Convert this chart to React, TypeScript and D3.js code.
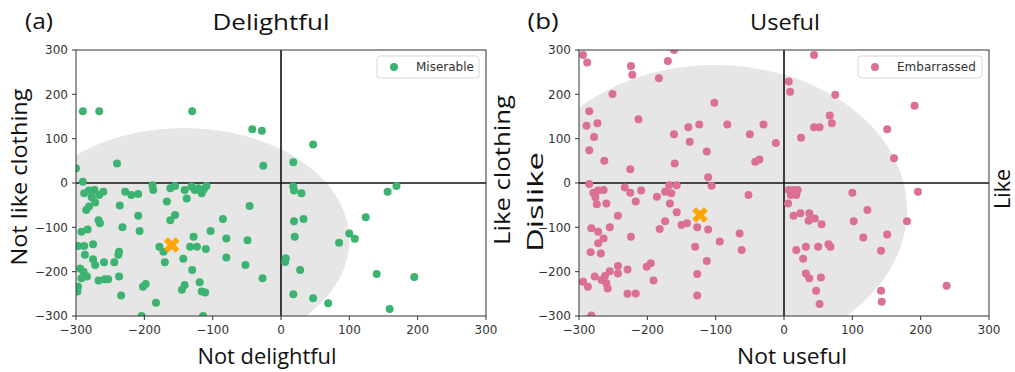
import React from 'react';
import * as d3 from 'd3';

const TICKS = [-300, -200, -100, 0, 100, 200, 300];
const DOMAIN: [number, number] = [-300, 300];

// Panel (a): Miserable
const miserable: [number, number][] = [
  [-290, 162], [-266, 162], [-130, 162], [-42, 121], [-28, 118], [-240, 44], [-26, 39], [-300, 33], [-290, 3],
  [47, 87], [18, 47], [169, -7], [18, -8], [19, -17], [30, -23], [156, -20], [124, -77], [19, -86], [33, -81],
  [20, -121], [100, -114], [108, -126], [85, -135], [7, -170], [6, -178], [28, -196], [140, -205], [195, -212],
  [18, -251], [47, -260], [69, -271], [159, -284],
  [-288, -23], [-281, -17], [-273, -16], [-266, -27], [-260, -20], [-277, -32], [-272, -44], [-285, -61], [-281, -53],
  [-236, -51], [-228, -20], [-219, -27], [-209, -25], [-188, -5], [-187, -16], [-167, -42], [-162, -12], [-155, -7],
  [-141, -16], [-138, -35], [-131, -8], [-126, -16], [-121, -12], [-116, -23], [-113, -14], [-109, -7], [-46, -52],
  [-209, -74], [-207, -108], [-162, -84], [-155, -72], [-265, -91], [-267, -84], [-292, -110], [-283, -105],
  [-232, -100], [-85, -81], [-103, -108], [-178, -144], [-172, -155], [-128, -121], [-133, -144], [-123, -144],
  [-110, -149], [-80, -125], [-49, -129], [-297, -142], [-288, -142], [-275, -138], [-287, -162], [-237, -155],
  [-238, -162], [-275, -172], [-272, -185], [-259, -179], [-244, -179], [-170, -179], [-143, -171], [-80, -168],
  [-52, -185], [-294, -193], [-289, -200], [-284, -211], [-292, -215], [-267, -220], [-258, -217], [-253, -217],
  [-237, -211], [-130, -196], [-27, -215], [-297, -234], [-298, -245], [-202, -234], [-198, -228], [-145, -241],
  [-141, -230], [-119, -224], [-116, -245], [-111, -247], [-234, -254], [-183, -270], [-204, -300], [-114, -300],
];
const miserableMean: [number, number] = [-160, -140];
const miserableEllipse = { cx: -142, cy: -129, rx: 242, ry: 253 };

// Panel (b): Embarrassed
const embarrassed: [number, number][] = [
  [-294, 289], [-288, 272], [-224, 264], [-222, 244], [-170, 275], [-161, 300], [-183, 236], [-251, 201], [-102, 181],
  [-285, 162], [-273, 135], [-289, 129], [-213, 144], [-278, 104], [-285, 74], [-263, 50], [-225, 31], [-161, 110],
  [-140, 126], [-138, 93], [-124, 132], [-160, 44], [-113, 71], [-83, 132], [-50, 110], [-30, 132], [-12, 90],
  [-42, 48], [-36, 53], [-111, 13], [-106, -6], [-285, -2],
  [-279, -22], [-272, -17], [-264, -16], [-276, -32], [-274, -48], [-260, -46], [-233, -10], [-225, -22], [-209, -17],
  [-217, -42], [-186, -31], [-174, -20], [-168, -5], [-165, -23], [-157, -5], [-167, -46], [-157, -66], [-243, -74],
  [-174, -86], [-182, -104], [-150, -95], [-142, -91], [-127, -100], [-111, -105], [-52, -27], [-65, -114],
  [-62, -151], [-94, -132], [-130, -144], [-113, -176], [-127, -205], [-127, -254], [-282, -102], [-272, -110],
  [-264, -125], [-272, -136], [-255, -100], [-283, -156], [-268, -159], [-224, -121], [-243, -187], [-229, -195],
  [-243, -204], [-255, -199], [-262, -210], [-277, -211], [-267, -219], [-260, -226], [-258, -238], [-294, -223],
  [-287, -234], [-201, -189], [-195, -181], [-191, -220], [-229, -250], [-217, -249], [-282, -299],
  [44, 289], [7, 229], [9, 206], [75, 199], [191, 174], [67, 152], [70, 135], [44, 126], [52, 126], [25, 102],
  [151, 121], [161, 56],
  [7, -16], [14, -16], [20, -16], [10, -27], [18, -27], [6, -46], [14, -74], [24, -68], [37, -68], [36, -85],
  [45, -80], [55, -93], [100, -22], [196, -20], [122, -61], [102, -86], [180, -86], [151, -116], [116, -123],
  [18, -151], [32, -144], [50, -144], [65, -138], [68, -144], [142, -153], [28, -171], [32, -204], [37, -215],
  [54, -213], [47, -243], [52, -273], [142, -243], [143, -268], [238, -232],
];
const embarrassedMean: [number, number] = [-123, -72];
const embarrassedEllipse = { cx: -101, cy: -61, rx: 281, ry: 327 };

const panelLetters = ['(a)', '(b)'];
const topLabels = ['Delightful', 'Useful'];
const bottomLabels = ['Not delightful', 'Not useful'];
const leftLabels = ['Not like clothing', 'Dislike'];
const rightLabels = ['Like clothing', 'Like'];
const legendLabels = ['Miserable', 'Embarrassed'];

const GREEN = '#3cb371';
const PINK = '#db7093';
const ORANGE = '#ffa500';
const TICK_FONT = '"DejaVu Sans", sans-serif';
const LABEL_FONT = '"Open Sans", "Noto Sans", sans-serif';

type EllipseSpec = { cx: number; cy: number; rx: number; ry: number };

interface PanelProps {
  id: string;
  left: number;
  right: number;
  top: number;
  bottom: number;
  points: [number, number][];
  mean: [number, number];
  ellipse: EllipseSpec;
  color: string;
  legend: string;
  legendTextW: number;
}

function Panel(p: PanelProps) {
  const x = d3.scaleLinear().domain(DOMAIN).range([p.left, p.right]);
  const y = d3.scaleLinear().domain(DOMAIN).range([p.bottom, p.top]);
  const ts = d3.range(0, 361, 3).map((deg) => (deg * Math.PI) / 180);
  const ellPath = d3
    .line<number>()
    .x((t) => x(p.ellipse.cx + p.ellipse.rx * Math.cos(t)))
    .y((t) => y(p.ellipse.cy + p.ellipse.ry * Math.sin(t)))
    .curve(d3.curveLinearClosed)(ts) as string;
  const clipId = `clip-${p.id}`;
  const xSym = d3.symbol().type(d3.symbolCross).size(150)() as string;
  const legW = p.legendTextW + 44;
  const legX = p.right - 7 - legW;
  const legY = p.top + 6;
  return (
    <g>
      <defs>
        <clipPath id={clipId}>
          <rect x={p.left} y={p.top} width={p.right - p.left} height={p.bottom - p.top} />
        </clipPath>
      </defs>
      <rect x={p.left} y={p.top} width={p.right - p.left} height={p.bottom - p.top} fill="#fff" />
      <g clipPath={`url(#${clipId})`}>
        <path d={ellPath} fill="#e6e6e6" />
        <line x1={x(0)} x2={x(0)} y1={p.top} y2={p.bottom} stroke="#111" strokeWidth={1.6} />
        <line x1={p.left} x2={p.right} y1={y(0)} y2={y(0)} stroke="#111" strokeWidth={1.6} />
        {p.points.map((d, i) => (
          <circle key={i} cx={x(d[0])} cy={y(d[1])} r={4} fill={p.color} />
        ))}
        <path d={xSym} transform={`translate(${x(p.mean[0])},${y(p.mean[1])}) rotate(45)`} fill={ORANGE} />
      </g>
      <rect x={p.left} y={p.top} width={p.right - p.left} height={p.bottom - p.top} fill="none" stroke="#333" strokeWidth={1} />
      {TICKS.map((t) => (
        <g key={`x${t}`}>
          <line x1={x(t)} x2={x(t)} y1={p.bottom} y2={p.bottom + 4} stroke="#333" />
          <text x={x(t)} y={p.bottom + 18} textAnchor="middle" fontFamily={TICK_FONT} fontSize={12} fill="#333">
            {t < 0 ? `\u2212${Math.abs(t)}` : t}
          </text>
        </g>
      ))}
      {TICKS.map((t) => (
        <g key={`y${t}`}>
          <line x1={p.left - 4} x2={p.left} y1={y(t)} y2={y(t)} stroke="#333" />
          <text x={p.left - 8} y={y(t)} dy="0.36em" textAnchor="end" fontFamily={TICK_FONT} fontSize={12} fill="#333">
            {t < 0 ? `\u2212${Math.abs(t)}` : t}
          </text>
        </g>
      ))}
      <rect x={legX} y={legY} width={legW} height={22} rx={3} fill="#fff" stroke="#d8d8d8" />
      <circle cx={legX + 17} cy={legY + 11} r={4} fill={p.color} />
      <text x={legX + 39} y={legY + 11} dy="0.36em" fontFamily={TICK_FONT} fontSize={12} fill="#333">
        {p.legend}
      </text>
    </g>
  );
}

function Label(props: { x: number; y: number; text: string; len: number; rotate?: boolean; size?: number; anchor?: string }) {
  const { x, y, text, len, rotate, size = 22, anchor = 'middle' } = props;
  return (
    <text
      transform={`translate(${x},${y})${rotate ? ' rotate(-90)' : ''}`}
      textAnchor={anchor}
      fontFamily={LABEL_FONT}
      fontSize={size}
      fill="#111"
      textLength={len}
      lengthAdjust="spacingAndGlyphs"
    >
      {text}
    </text>
  );
}

export default function App() {
  return (
    <svg width={1015} height={372} style={{ position: 'absolute', left: 0, top: 0, background: '#fff' }}>
      <rect width={1015} height={372} fill="#fff" />
      <Panel id="a" left={76} right={486} top={50} bottom={316} points={miserable} mean={miserableMean}
        ellipse={miserableEllipse} color={GREEN} legend={legendLabels[0]} legendTextW={58} />
      <Panel id="b" left={579} right={989} top={50} bottom={316} points={embarrassed} mean={embarrassedMean}
        ellipse={embarrassedEllipse} color={PINK} legend={legendLabels[1]} legendTextW={80} />

      <Label x={39} y={29} text={panelLetters[0]} len={28} />
      <Label x={543} y={29} text={panelLetters[1]} len={31} />
      <Label x={271} y={30} text={topLabels[0]} len={117} />
      <Label x={785} y={30} text={topLabels[1]} len={70} />
      <Label x={267} y={364} text={bottomLabels[0]} len={139} />
      <Label x={792} y={364} text={bottomLabels[1]} len={110} />
      <Label x={27} y={177} text={leftLabels[0]} len={177} rotate />
      <Label x={510} y={170} text={rightLabels[0]} len={150} rotate />
      <Label x={543} y={202} text={leftLabels[1]} len={100} rotate size={21} />
      <Label x={1010} y={189} text={rightLabels[1]} len={40} rotate size={21} />
    </svg>
  );
}
